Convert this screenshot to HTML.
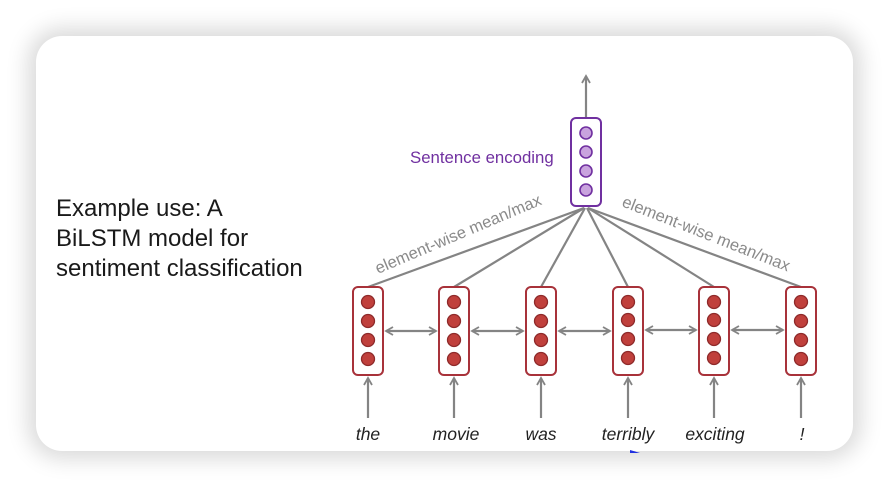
<!DOCTYPE html>
<html><head><style>
html,body{margin:0;padding:0;background:#fff;}
.card{position:absolute;left:36px;top:36px;width:817px;height:415px;border-radius:26px;background:#fff;box-shadow:0 0 22px 8px rgba(0,0,0,0.15);}
svg{position:absolute;left:0;top:0;}
</style></head><body>
<div class="card"></div>
<svg width="890" height="488" viewBox="0 0 890 488" font-family="Liberation Sans, sans-serif">
<defs>
<marker id="a" markerWidth="10" markerHeight="10" refX="8" refY="5" orient="auto" markerUnits="userSpaceOnUse">
<path d="M1,1 L8,5 L1,9" fill="none" stroke="#848484" stroke-width="1.8"/>
</marker>
<marker id="b" markerWidth="10" markerHeight="10" refX="2" refY="5" orient="auto" markerUnits="userSpaceOnUse">
<path d="M9,1 L2,5 L9,9" fill="none" stroke="#848484" stroke-width="1.8"/>
</marker>
</defs>
<g font-size="24" fill="#1a1a1a">
<text x="56" y="216">Example use: A</text>
<text x="56" y="246">BiLSTM model for</text>
<text x="56" y="276">sentiment classification</text>
</g>
<g stroke="#848484" stroke-width="2.2" fill="none">
<line x1="586" y1="117" x2="586" y2="76" marker-end="url(#a)"/>
<line x1="368" y1="287" x2="584" y2="208"/>
<line x1="454" y1="287" x2="584" y2="208"/>
<line x1="541" y1="287" x2="585" y2="208"/>
<line x1="628" y1="287" x2="587" y2="208"/>
<line x1="714" y1="287" x2="588" y2="208"/>
<line x1="801" y1="287" x2="588" y2="208"/>
<g marker-end="url(#a)">
<line x1="368" y1="418" x2="368" y2="378"/>
<line x1="454" y1="418" x2="454" y2="378"/>
<line x1="541" y1="418" x2="541" y2="378"/>
<line x1="628" y1="418" x2="628" y2="378"/>
<line x1="714" y1="418" x2="714" y2="378"/>
<line x1="801" y1="418" x2="801" y2="378"/>
</g>
<g marker-end="url(#a)" marker-start="url(#b)">
<line x1="386" y1="331" x2="436" y2="331"/>
<line x1="472" y1="331" x2="523" y2="331"/>
<line x1="559" y1="331" x2="610" y2="331"/>
<line x1="646" y1="330" x2="696" y2="330"/>
<line x1="732" y1="330" x2="783" y2="330"/>
</g>
</g>
<rect x="571" y="118" width="30" height="88" rx="5" fill="#fff" stroke="#7030a0" stroke-width="2"/>
<g fill="#c9a3de" stroke="#7030a0" stroke-width="1.6">
<circle cx="586" cy="133" r="6"/><circle cx="586" cy="152" r="6"/><circle cx="586" cy="171" r="6"/><circle cx="586" cy="190" r="6"/>
</g>
<text x="410" y="163" font-size="16.8" fill="#7030a0">Sentence encoding</text>
<g>
<g transform="translate(368,0)"><rect x="-15" y="287" width="30" height="88" rx="5" fill="#fff" stroke="#a8323a" stroke-width="2"/><g fill="#c0403c" stroke="#8e2a2a" stroke-width="1.3"><circle cy="302" r="6.5"/><circle cy="321" r="6.5"/><circle cy="340" r="6.5"/><circle cy="359" r="6.5"/></g></g>
<g transform="translate(454,0)"><rect x="-15" y="287" width="30" height="88" rx="5" fill="#fff" stroke="#a8323a" stroke-width="2"/><g fill="#c0403c" stroke="#8e2a2a" stroke-width="1.3"><circle cy="302" r="6.5"/><circle cy="321" r="6.5"/><circle cy="340" r="6.5"/><circle cy="359" r="6.5"/></g></g>
<g transform="translate(541,0)"><rect x="-15" y="287" width="30" height="88" rx="5" fill="#fff" stroke="#a8323a" stroke-width="2"/><g fill="#c0403c" stroke="#8e2a2a" stroke-width="1.3"><circle cy="302" r="6.5"/><circle cy="321" r="6.5"/><circle cy="340" r="6.5"/><circle cy="359" r="6.5"/></g></g>
<g transform="translate(628,0)"><rect x="-15" y="287" width="30" height="88" rx="5" fill="#fff" stroke="#a8323a" stroke-width="2"/><g fill="#c0403c" stroke="#8e2a2a" stroke-width="1.3"><circle cy="302" r="6.5"/><circle cy="320" r="6.5"/><circle cy="339" r="6.5"/><circle cy="358" r="6.5"/></g></g>
<g transform="translate(714,0)"><rect x="-15" y="287" width="30" height="88" rx="5" fill="#fff" stroke="#a8323a" stroke-width="2"/><g fill="#c0403c" stroke="#8e2a2a" stroke-width="1.3"><circle cy="302" r="6.5"/><circle cy="320" r="6.5"/><circle cy="339" r="6.5"/><circle cy="358" r="6.5"/></g></g>
<g transform="translate(801,0)"><rect x="-15" y="287" width="30" height="88" rx="5" fill="#fff" stroke="#a8323a" stroke-width="2"/><g fill="#c0403c" stroke="#8e2a2a" stroke-width="1.3"><circle cy="302" r="6.5"/><circle cy="321" r="6.5"/><circle cy="340" r="6.5"/><circle cy="359" r="6.5"/></g></g>
</g>
<g font-size="17.5" font-style="italic" fill="#222" text-anchor="middle">
<text x="368" y="440">the</text>
<text x="456" y="440">movie</text>
<text x="541" y="440">was</text>
<text x="628" y="440">terribly</text>
<text x="715" y="440">exciting</text>
<text x="802" y="440">!</text>
</g>
<g font-size="16.5" fill="#8a8a8a">
<text transform="translate(378,274) rotate(-23)">element-wise mean/max</text>
<text transform="translate(621,206) rotate(21.5)">element-wise mean/max</text>
</g>
<path d="M630,450 L640,453 L630,453 Z" fill="#2030e0"/>
</svg>
</body></html>
